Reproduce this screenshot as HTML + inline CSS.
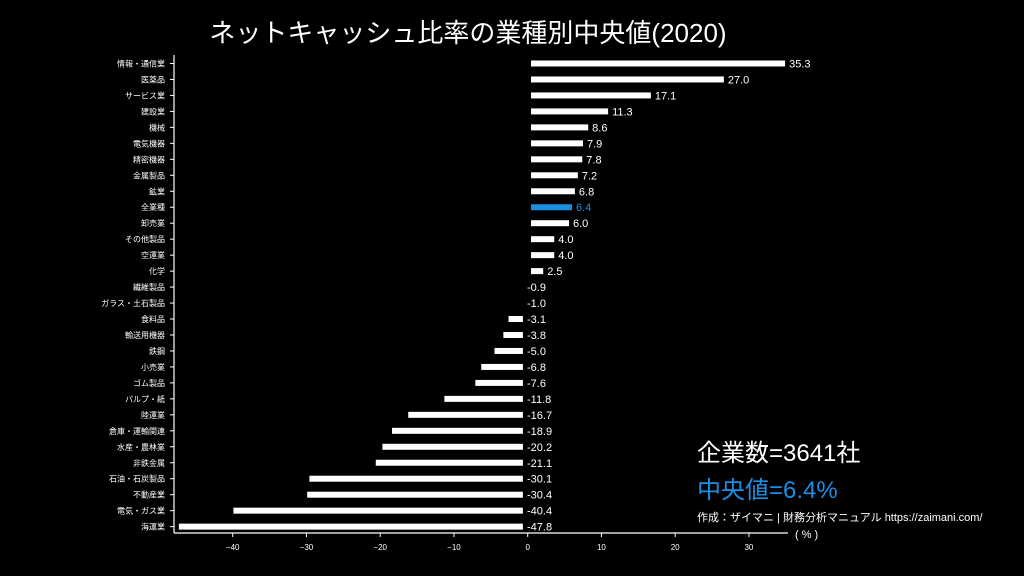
<!DOCTYPE html>
<html><head><meta charset="utf-8"><style>
html,body{margin:0;padding:0;background:#000;}
svg{display:block;font-family:"Liberation Sans","Noto Sans CJK JP",sans-serif;}
</style></head><body>
<svg id="c" width="1024" height="576" viewBox="0 0 1024 576">
<rect width="1024" height="576" fill="#000"/>
<text x="468" y="42" fill="#fff" font-size="26" text-anchor="middle">ネットキャッシュ比率の業種別中央値(2020)</text>
<line x1="174" y1="55" x2="174" y2="533" stroke="#fff" stroke-width="1.2"/>
<line x1="174" y1="533" x2="788" y2="533" stroke="#fff" stroke-width="1.2"/>
<text x="795" y="538" fill="#fff" font-size="11">( % )</text>
<text x="697" y="461" fill="#fff" font-size="24">企業数=3641社</text>
<text x="697" y="498" fill="#1a8fe3" font-size="24">中央値=6.4%</text>
<text x="697" y="521" fill="#fff" font-size="11">作成：ザイマニ | 財務分析マニュアル https://zaimani.com/</text>
<g id="plot"></g>
</svg>
<script>
const categories=["情報・通信業","医薬品","サービス業","建設業","機械","電気機器","精密機器","金属製品","鉱業","全業種","卸売業","その他製品","空運業","化学","繊維製品","ガラス・土石製品","食料品","輸送用機器","鉄鋼","小売業","ゴム製品","パルプ・紙","陸運業","倉庫・運輸関連","水産・農林業","非鉄金属","石油・石炭製品","不動産業","電気・ガス業","海運業"];
const values=[35.3,27.0,17.1,11.3,8.6,7.9,7.8,7.2,6.8,6.4,6.0,4.0,4.0,2.5,-0.9,-1.0,-3.1,-3.8,-5.0,-6.8,-7.6,-11.8,-16.7,-18.9,-20.2,-21.1,-30.1,-30.4,-40.4,-47.8];
const highlight="全業種";
const xTicks=[-40,-30,-20,-10,0,10,20,30];
const NS="http://www.w3.org/2000/svg";
const g=document.getElementById('plot');
const x=v=>527.7+v*7.375;
const y=i=>63.5+i*15.97;
function mk(t,a){const e=document.createElementNS(NS,t);for(const k in a)e.setAttribute(k,a[k]);g.appendChild(e);return e;}
xTicks.forEach(t=>{
  const l=mk('line',{x1:x(t),x2:x(t),y1:533,y2:537,stroke:'#fff'});
  
  
  const tx=mk('text',{x:x(t),y:550,fill:'#fff','font-size':8,'text-anchor':'middle'});
  tx.textContent=t===0?'0':'\u2212'+Math.abs(t);
  if(t>0)tx.textContent=String(t);
  
  
});
categories.forEach((c,i)=>{
  const v=values[i],yy=y(i),col=c===highlight?'#1a8fe3':'#fff';
  const tk=mk('line',{x1:170,x2:174,y1:yy,y2:yy,stroke:'#fff'});
  
  
  const lb=mk('text',{x:165,y:yy+3,fill:'#fff','font-size':8,'text-anchor':'end'});
  lb.textContent=c;
  
  
  let x0,x1;
  if(v>=0){x0=x(0.45);x1=Math.max(x0,x(v-0.4));}
  else{x1=x(-0.65);x0=Math.min(x1,x(v+0.5));}
  const r=mk('rect',{x:x0,y:yy-3,width:x1-x0,height:6,fill:col});
  
  
  const vl=mk('text',{x:v>=0?x1+4:527,y:yy+4,fill:col,'font-size':11});
  vl.textContent=v.toFixed(1);
  
  
});
</script>
</body></html>
